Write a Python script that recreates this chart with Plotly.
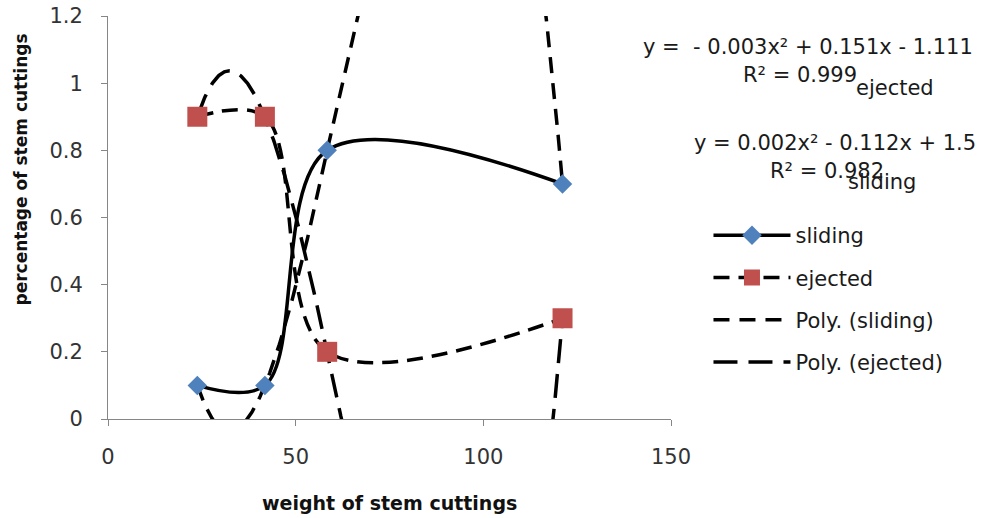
import numpy as np
import plotly.graph_objects as go

# ---- data ----
weights = [23.8, 41.8, 58.4, 121.1]
sliding = [0.1, 0.1, 0.8, 0.7]
ejected = [0.9, 0.9, 0.2, 0.3]
x_ticks = [0, 50, 100, 150]
y_ticks = [0, 0.2, 0.4, 0.6, 0.8, 1.0, 1.2]
y_tick_text = ["0", "0.2", "0.4", "0.6", "0.8", "1", "1.2"]
eq_ejected = ["y =  - 0.003x² + 0.151x - 1.111", "R² = 0.999"]
eq_sliding = ["y = 0.002x² - 0.112x + 1.5", "R² = 0.982"]

BLUE = "#4F81BD"
RED = "#C0504D"
FONT = "DejaVu Sans"

# layout in pixels
W, H = 984, 518
L, R_EDGE, T, B_EDGE = 107.5, 670.7, 16, 419


def px(xp):
    return (xp - L) / (R_EDGE - L)


def py(yp):
    return (B_EDGE - yp) / (B_EDGE - T)


# polynomial trendlines (order 3) fitted to the data
xa = np.array(weights)
xs = np.linspace(xa.min(), xa.max(), 500)
fit_s = np.polyval(np.polyfit(xa, np.array(sliding), 3), xs)
fit_e = np.polyval(np.polyfit(xa, np.array(ejected), 3), xs)

fig = go.Figure()
fig.add_trace(go.Scatter(
    x=xs, y=fit_s, mode="lines", name="Poly. (sliding)",
    line=dict(color="black", width=3.5, dash="16px,10px"),
    legendrank=3, legendgroup="c", hoverinfo="skip"))
fig.add_trace(go.Scatter(
    x=xs, y=fit_e, mode="lines", name="Poly. (ejected)",
    line=dict(color="black", width=3.5, dash="24px,11px"),
    legendrank=4, legendgroup="d", hoverinfo="skip"))
fig.add_trace(go.Scatter(
    x=weights, y=sliding, mode="lines+markers", name="sliding",
    line=dict(color="black", width=3.5, shape="spline", smoothing=1),
    marker=dict(symbol="diamond", size=15, color=BLUE, line=dict(width=0)),
    legendrank=1, legendgroup="a"))
fig.add_trace(go.Scatter(
    x=weights, y=ejected, mode="lines+markers", name="ejected",
    line=dict(color="black", width=3.5, shape="spline", smoothing=1, dash="16px,9px"),
    marker=dict(symbol="square", size=20, color=RED, line=dict(width=0)),
    legendrank=2, legendgroup="b"))

ann = []
txt_font = dict(family=FONT, size=21, color="#1a1a1a")
ann.append(dict(text=eq_ejected[0], x=px(808), y=py(47)))
ann.append(dict(text=eq_ejected[1], x=px(800), y=py(75)))
ann.append(dict(text="ejected", x=px(895), y=py(88)))
ann.append(dict(text=eq_sliding[0], x=px(835), y=py(143)))
ann.append(dict(text=eq_sliding[1], x=px(827), y=py(171)))
ann.append(dict(text="sliding", x=px(882), y=py(182)))
for a in ann:
    a.update(xref="paper", yref="paper", showarrow=False, xanchor="center",
             yanchor="middle", font=txt_font)
ann.append(dict(text="<b>weight of stem cuttings</b>", x=px(389), y=py(503),
                xref="paper", yref="paper", showarrow=False, xanchor="center",
                yanchor="middle", font=dict(family=FONT, size=19, color="#111")))
ann.append(dict(text="<b>percentage of stem cuttings</b>", x=px(20), y=py(170),
                xref="paper", yref="paper", showarrow=False, xanchor="center",
                yanchor="middle", textangle=-90,
                font=dict(family=FONT, size=17, color="#111")))

axis_common = dict(showline=True, linecolor="#868686", linewidth=1,
                   ticks="outside", ticklen=6, tickcolor="#868686",
                   showgrid=False, zeroline=False,
                   tickfont=dict(family=FONT, size=21, color="#333"))

fig.update_layout(
    width=W, height=H,
    margin=dict(l=L, r=W - R_EDGE, t=T, b=H - B_EDGE, autoexpand=False),
    paper_bgcolor="white", plot_bgcolor="white",
    xaxis=dict(range=[0, 150], tickvals=x_ticks, ticklabelstandoff=13, **axis_common),
    yaxis=dict(range=[0, 1.2], tickvals=y_ticks, ticktext=y_tick_text,
               ticklabelstandoff=14, **axis_common),
    showlegend=True,
    legend=dict(xref="container", yref="container", x=0.72, y=1 - 215 / H,
                xanchor="left", yanchor="top", tracegroupgap=12, itemwidth=77,
                font=dict(family=FONT, size=21, color="#1a1a1a"),
                bgcolor="rgba(0,0,0,0)"),
    annotations=ann,
)

fig.write_html("out.html")
